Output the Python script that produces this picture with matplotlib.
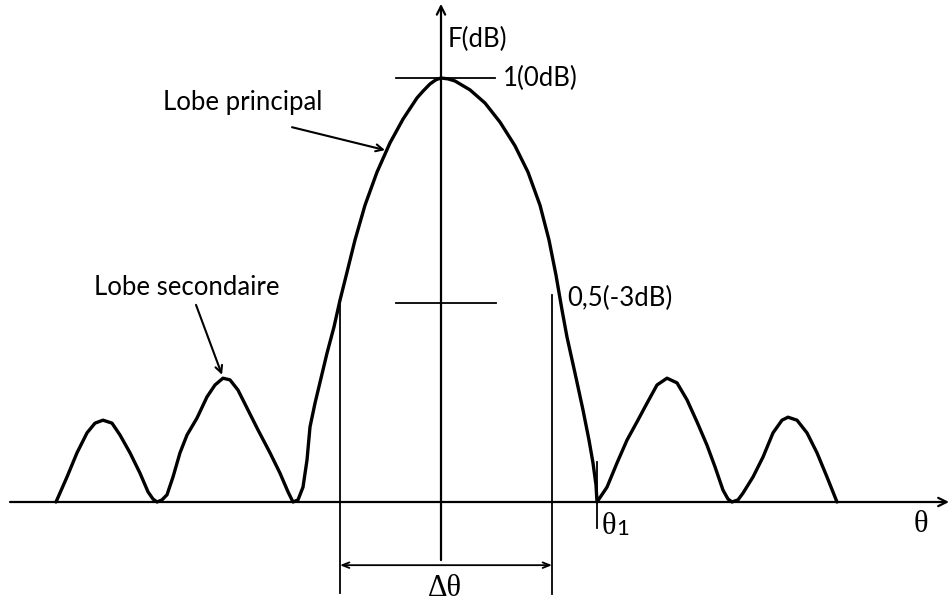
import matplotlib
matplotlib.use("Agg")
import matplotlib.pyplot as plt
import numpy as np

# antenna radiation pattern sketch
# theta in arbitrary units (vertical axis at 0), F normalised to the main lobe peak
left_lobes_theta = [-3.85, -3.74, -3.64, -3.54, -3.46, -3.38, -3.29, -3.21, -3.11, -3.01,
                    -2.93, -2.88, -2.84, -2.79, -2.74, -2.68, -2.61, -2.54, -2.44, -2.34,
                    -2.26, -2.18, -2.11, -2.03, -1.93, -1.83, -1.71, -1.61, -1.53, -1.48,
                    -1.43, -1.38, -1.34, -1.31]
left_lobes_F = [0.0, 0.059, 0.116, 0.163, 0.186, 0.193, 0.186, 0.158, 0.116, 0.068,
                0.024, 0.007, 0.0, 0.005, 0.017, 0.059, 0.116, 0.158, 0.198, 0.248,
                0.276, 0.292, 0.288, 0.264, 0.217, 0.170, 0.116, 0.068, 0.024, 0.0,
                0.005, 0.035, 0.099, 0.177]

main_lobe_theta = [-1.26, -1.20, -1.14, -1.07, -1.01, -0.94, -0.86, -0.76, -0.64, -0.51,
                   -0.38, -0.24, -0.18, -0.11, -0.05, 0.0, 0.07,
                   0.14, 0.29, 0.44, 0.59, 0.74, 0.87, 0.99, 1.08, 1.15, 1.21,
                   1.26, 1.34, 1.42, 1.48, 1.52, 1.55, 1.56]
main_lobe_F = [0.233, 0.292, 0.351, 0.413, 0.476, 0.542, 0.618, 0.700, 0.778, 0.847,
               0.903, 0.953, 0.969, 0.986, 0.996, 1.0, 0.998,
               0.993, 0.972, 0.941, 0.896, 0.840, 0.778, 0.700, 0.618, 0.535, 0.453,
               0.389, 0.304, 0.217, 0.146, 0.092, 0.040, 0.0]

right_lobes_theta = [1.66, 1.76, 1.86, 1.96, 2.06, 2.16, 2.26, 2.36, 2.46, 2.56,
                     2.66, 2.74, 2.82, 2.87, 2.91, 2.97, 3.02, 3.12, 3.22, 3.32,
                     3.41, 3.47, 3.56, 3.66, 3.76, 3.86, 3.96]
right_lobes_F = [0.035, 0.092, 0.146, 0.189, 0.233, 0.276, 0.292, 0.281, 0.241, 0.189,
                 0.134, 0.083, 0.028, 0.007, 0.0, 0.005, 0.021, 0.059, 0.106, 0.163,
                 0.193, 0.200, 0.193, 0.163, 0.116, 0.059, 0.0]

theta_half = [-1.01, 1.11]   # -3 dB crossings
F_half = 0.469
theta_null = 1.56            # theta1, first null

theta = np.array(left_lobes_theta + main_lobe_theta + right_lobes_theta)
F = np.array(left_lobes_F + main_lobe_F + right_lobes_F)

sans = ['Lato', 'DejaVu Sans']
serif = ['Liberation Serif', 'DejaVu Serif']
k = 'black'

fig = plt.figure(figsize=(9.5, 6.01), dpi=100)
ax = fig.add_axes([0, 0, 1, 1])
ax.set_xlim(-4.41, 5.09)
ax.set_ylim(-0.2335, 1.184)
ax.set_axis_off()

# axes with arrows
ax.annotate('', xy=(5.08, 0), xytext=(-4.31, 0),
            arrowprops=dict(arrowstyle='->,head_length=0.6,head_width=0.3', lw=1.6, color=k,
                            shrinkA=0, shrinkB=0))
ax.annotate('', xy=(0, 1.175), xytext=(0, -0.137),
            arrowprops=dict(arrowstyle='->,head_length=0.6,head_width=0.3', lw=1.6, color=k,
                            shrinkA=0, shrinkB=0))

# pattern
ax.plot(theta, F, color=k, lw=2.4, solid_joinstyle='round', solid_capstyle='round')

# peak and half power ticks
ax.plot([-0.45, 0.54], [1.0, 1.0], color=k, lw=1.3)
ax.plot([-0.45, 0.55], [F_half, F_half], color=k, lw=1.3)

# beamwidth markers
ax.plot([theta_half[0], theta_half[0]], [0.476, -0.215], color=k, lw=1.3)
ax.plot([theta_half[1], theta_half[1]], [0.488, -0.217], color=k, lw=1.3)
ax.annotate('', xy=(theta_half[1], -0.149), xytext=(theta_half[0], -0.149),
            arrowprops=dict(arrowstyle='<->,head_length=0.5,head_width=0.2', lw=1.3, color=k,
                            shrinkA=0, shrinkB=0))
ax.plot([theta_null, theta_null], [0.094, -0.061], color=k, lw=1.3)

# labels
ax.text(0.07, 1.09, 'F(dB)', family=sans, fontsize=18.5, ha='left', va='center')
ax.text(0.62, 1.0, '1(0dB)', family=sans, fontsize=18.5, ha='left', va='center')
ax.text(1.26, 0.481, '0,5(-3dB)', family=sans, fontsize=18.5, ha='left', va='center')
ax.text(0.04, -0.203, 'Δθ', family=serif, fontsize=22, ha='center', va='center')
ax.text(1.61, -0.075, 'θ', family=serif, fontsize=22, ha='left', va='baseline')
ax.text(1.75, -0.078, '1', family=sans, fontsize=16, ha='left', va='baseline')
ax.text(4.80, -0.054, 'θ', family=serif, fontsize=22, ha='center', va='center')

ax.text(-1.98, 0.943, 'Lobe principal', family=sans, fontsize=18.5, ha='center', va='center')
ax.annotate('', xy=(-0.56, 0.830), xytext=(-1.49, 0.884),
            arrowprops=dict(arrowstyle='->,head_length=0.5,head_width=0.25', lw=1.5, color=k,
                            shrinkA=0, shrinkB=0))
ax.text(-2.54, 0.507, 'Lobe secondaire', family=sans, fontsize=18.5, ha='center', va='center')
ax.annotate('', xy=(-2.19, 0.300), xytext=(-2.45, 0.465),
            arrowprops=dict(arrowstyle='->,head_length=0.5,head_width=0.25', lw=1.5, color=k,
                            shrinkA=0, shrinkB=0))

fig.savefig('out.png', dpi=100, facecolor='white')
